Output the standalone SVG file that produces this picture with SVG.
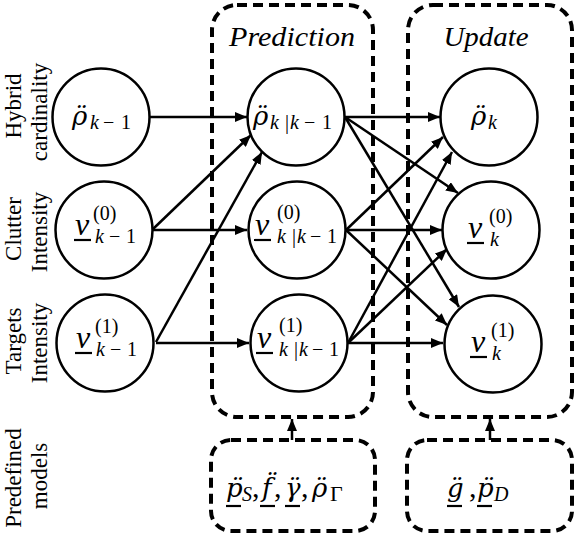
<svg xmlns="http://www.w3.org/2000/svg" width="574" height="534" viewBox="0 0 574 534">
<style>
.nd circle{fill:#fff;stroke:#000;stroke-width:2.5}
.box{fill:none;stroke:#000;stroke-width:4;stroke-dasharray:10 6}
.conn line{stroke:#000;stroke-width:2.5;marker-end:url(#ah)}
.ul{stroke:#000;stroke-width:2.2}
.m{font-family:"Liberation Serif",serif;font-style:italic;fill:#000;font-size:30px}
.g{font-family:"DejaVu Serif",serif;font-style:italic;font-size:26px}
.up{font-style:normal}
.v{font-size:32px}
.s{font-size:20px}
.lbl{font-family:"Liberation Serif",serif;font-size:23px;fill:#000;text-anchor:middle}
.ttl{font-family:"Liberation Serif",serif;font-style:italic;font-size:28px;text-anchor:middle}
</style>
<defs>
<marker id="ah" markerUnits="userSpaceOnUse" markerWidth="13" markerHeight="10" refX="12" refY="5" orient="auto">
<path d="M0,0 L12,5 L0,10 z" fill="#000"/>
</marker>
</defs>

<g id="labels">
<text class="lbl" transform="translate(21,106) rotate(-90)">Hybrid</text>
<text class="lbl" transform="translate(47,112) rotate(-90)">cardinality</text>
<text class="lbl" transform="translate(21,229) rotate(-90)">Clutter</text>
<text class="lbl" transform="translate(47,232) rotate(-90)">Intensity</text>
<text class="lbl" transform="translate(21,341) rotate(-90)">Targets</text>
<text class="lbl" transform="translate(47,343) rotate(-90)">Intensity</text>
<text class="lbl" transform="translate(21,478) rotate(-90)">Predefined</text>
<text class="lbl" transform="translate(47,476) rotate(-90)">models</text>
</g>

<g id="prediction">
<rect class="box" x="212" y="5" width="161" height="412" rx="25"/>
<text class="ttl" x="292" y="46" textLength="126" lengthAdjust="spacingAndGlyphs">Prediction</text>
</g>
<g id="update">
<rect class="box" x="408" y="5" width="164" height="412" rx="25"/>
<text class="ttl" x="486" y="46" textLength="85" lengthAdjust="spacingAndGlyphs">Update</text>
</g>

<g id="connectors" class="conn">
<line x1="150" y1="117" x2="247" y2="117"/>
<line x1="153" y1="230" x2="247" y2="230"/>
<line x1="156" y1="343" x2="249" y2="343"/>
<line x1="153" y1="229" x2="251" y2="135"/>
<line x1="156" y1="342" x2="262" y2="152"/>
<line x1="345" y1="117" x2="440" y2="117"/>
<line x1="345" y1="117" x2="458" y2="193"/>
<line x1="345" y1="117" x2="459" y2="307"/>
<line x1="346" y1="230" x2="443" y2="137"/>
<line x1="346" y1="230" x2="442" y2="230"/>
<line x1="346" y1="230" x2="447" y2="325"/>
<line x1="348" y1="343" x2="452" y2="152"/>
<line x1="348" y1="343" x2="447" y2="249"/>
<line x1="348" y1="343" x2="443" y2="343"/>
<line x1="292" y1="440" x2="292" y2="419"/>
<line x1="490" y1="440" x2="490" y2="419"/>
</g>

<g id="n-rho-prev" class="nd">
<circle cx="101" cy="117" r="48.5"/>
<text class="m" y="125"><tspan class="g" x="72">ρ̈</tspan><tspan class="s" x="90" y="129">k</tspan><tspan class="s up" x="103 121">−1</tspan></text>
</g>
<g id="n-clutter-prev" class="nd">
<circle cx="104" cy="230" r="48.5"/>
<text class="m"><tspan class="v" x="75" y="235">v</tspan><tspan class="s up" x="93" y="220">(0)</tspan><tspan class="s" x="95" y="243">k</tspan><tspan class="s up" x="109 126">−1</tspan></text>
<line class="ul" x1="74" y1="240" x2="91" y2="240"/>
</g>
<g id="n-targets-prev" class="nd">
<circle cx="105" cy="343" r="48.5"/>
<text class="m"><tspan class="v" x="76" y="348">v</tspan><tspan class="s up" x="95" y="333">(1)</tspan><tspan class="s" x="96" y="356">k</tspan><tspan class="s up" x="110 127">−1</tspan></text>
<line class="ul" x1="75" y1="353" x2="92" y2="353"/>
</g>

<g id="n-rho-pred" class="nd">
<circle cx="296" cy="117" r="48.5"/>
<text class="m" y="125"><tspan class="g" x="253">ρ̈</tspan><tspan class="s" x="270" y="129">k</tspan><tspan class="s up" x="285">|</tspan><tspan class="s" x="290">k</tspan><tspan class="s up" x="304 322">−1</tspan></text>
</g>
<g id="n-clutter-pred" class="nd">
<circle cx="297" cy="230" r="48.5"/>
<text class="m"><tspan class="v" x="255" y="235">v</tspan><tspan class="s up" x="277" y="219">(0)</tspan><tspan class="s" x="277" y="243">k</tspan><tspan class="s up" x="292">|</tspan><tspan class="s" x="297">k</tspan><tspan class="s up" x="310 327">−1</tspan></text>
<line class="ul" x1="254" y1="240" x2="271" y2="240"/>
</g>
<g id="n-targets-pred" class="nd">
<circle cx="299" cy="343" r="48.5"/>
<text class="m"><tspan class="v" x="257" y="348">v</tspan><tspan class="s up" x="279" y="332">(1)</tspan><tspan class="s" x="279" y="356">k</tspan><tspan class="s up" x="294">|</tspan><tspan class="s" x="299">k</tspan><tspan class="s up" x="312 329">−1</tspan></text>
<line class="ul" x1="256" y1="353" x2="273" y2="353"/>
</g>

<g id="n-rho-upd" class="nd">
<circle cx="489" cy="117" r="48.5"/>
<text class="m" y="125"><tspan class="g" x="471">ρ̈</tspan><tspan class="s" x="488" y="129">k</tspan></text>
</g>
<g id="n-clutter-upd" class="nd">
<circle cx="491" cy="230" r="48.5"/>
<text class="m"><tspan class="v" x="468" y="238">v</tspan><tspan class="s up" x="489" y="223">(0)</tspan><tspan class="s" x="490" y="246">k</tspan></text>
<line class="ul" x1="467" y1="243" x2="484" y2="243"/>
</g>
<g id="n-targets-upd" class="nd">
<circle cx="493" cy="344" r="48.5"/>
<text class="m"><tspan class="v" x="471" y="352">v</tspan><tspan class="s up" x="491" y="337">(1)</tspan><tspan class="s" x="492" y="360">k</tspan></text>
<line class="ul" x1="470" y1="357" x2="487" y2="357"/>
</g>

<g id="models-pred">
<rect class="box" x="211" y="440" width="164" height="91" rx="20"/>
<text class="m" y="497"><tspan class="g" x="226">p̈</tspan><tspan class="s" x="242" y="501">S</tspan><tspan class="up" x="252" y="497">,</tspan><tspan class="g" x="262">f̈</tspan><tspan class="up" x="274" y="497">,</tspan><tspan class="g" x="285">γ̈</tspan><tspan class="up" x="301" y="497">,</tspan><tspan class="g" x="312">ρ̈</tspan><tspan class="s up" x="330" y="501" style="font-size:22px">Γ</tspan></text>
<line class="ul" x1="226" y1="506" x2="241" y2="506"/>
<line class="ul" x1="260" y1="506" x2="275" y2="506"/>
<line class="ul" x1="285" y1="506" x2="300" y2="506"/>
</g>
<g id="models-upd">
<rect class="box" x="407" y="440" width="165" height="91" rx="20"/>
<text class="m" y="497"><tspan class="g" x="447">g̈</tspan><tspan class="up" x="469" y="497">,</tspan><tspan class="g" x="477">p̈</tspan><tspan class="s" x="494" y="501">D</tspan></text>
<line class="ul" x1="447" y1="506" x2="462" y2="506"/>
<line class="ul" x1="477" y1="506" x2="492" y2="506"/>
</g>
</svg>
